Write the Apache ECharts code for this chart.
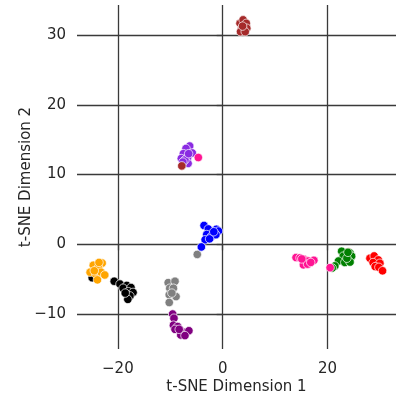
<!DOCTYPE html>
<html>
<head>
<meta charset="utf-8">
<script src="https://cdn.jsdelivr.net/npm/echarts@6/dist/echarts.min.js"></script>
<style>html,body{margin:0;padding:0;background:#fff}#c{width:396px;height:400px}</style>
</head>
<body>
<div id="c"></div>
<script>
// tick labels
const xTicks = [-20, 0, 20];
const yTicks = [-10, 0, 10, 20, 30];

// clusters: [x, y] pairs
const clusterOrange = [[-24.7,-3.0],[-23.0,-2.7],[-23.7,-3.3],[-25.3,-4.0],[-24.2,-4.3],[-23.2,-4.0],[-22.5,-4.4],[-23.9,-5.1],[-24.5,-3.8],[-23.6,-2.6]];
const clusterBlack = [[-24.9,-4.8],[-20.7,-5.3],[-19.6,-5.7],[-18.3,-5.9],[-19.0,-6.3],[-17.5,-6.2],[-18.0,-6.8],[-17.1,-6.9],[-17.7,-7.4],[-18.1,-7.9],[-18.6,-7.0]];
const clusterGrey = [[-10.4,-5.5],[-9.1,-5.3],[-10.1,-6.3],[-9.4,-6.3],[-10.2,-7.25],[-8.9,-7.5],[-10.2,-8.35],[-9.7,-7.0],[-4.85,-1.45]];
const clusterDarkPurple = [[-9.55,-10.0],[-9.3,-10.6],[-9.4,-11.6],[-8.6,-11.8],[-9.1,-12.2],[-7.8,-12.5],[-7.0,-12.6],[-6.45,-12.4],[-8.0,-13.0],[-7.2,-13.1],[-8.3,-12.2]];
const clusterViolet = [[-6.3,14.1],[-7.0,13.75],[-5.8,13.1],[-7.5,13.0],[-7.9,12.3],[-6.7,12.4],[-6.6,11.6],[-7.2,12.1],[-6.5,13.0],[-7.6,11.8]];
const clusterBlue = [[-3.56,2.7],[-2.74,2.2],[-1.2,2.15],[-0.8,1.9],[-3.05,1.4],[-2.2,1.1],[-1.3,1.38],[-3.35,0.65],[-2.5,0.78],[-4.07,-0.38],[-1.7,1.8]];
const clusterBrown = [[3.3,31.7],[3.9,32.2],[4.5,31.7],[3.6,31.0],[4.6,31.0],[3.4,30.5],[4.3,30.5],[3.8,31.3],[-7.8,11.25]];
const clusterPink = [[14.0,-1.9],[14.75,-1.95],[15.5,-2.15],[16.3,-2.4],[17.4,-2.3],[15.4,-2.95],[16.2,-2.85],[16.8,-2.6],[15.1,-2.1],[-4.65,12.45],[20.5,-3.35]];
const clusterGreen = [[22.7,-1.0],[24.3,-1.25],[23.0,-1.7],[24.6,-1.7],[22.1,-2.4],[23.3,-2.6],[24.3,-2.55],[21.4,-3.1],[20.9,-3.4],[23.7,-2.0],[23.9,-1.15]];
const clusterRed = [[24.0,-1.1],[28.1,-2.0],[28.9,-1.67],[29.7,-2.24],[28.7,-2.62],[30.0,-2.72],[29.1,-3.2],[29.8,-3.3],[30.5,-3.8]];

// drawing order (first drawn is underneath)
const clusters = [
  {name:'black', color:'#000000', data:clusterBlack},
  {name:'red', color:'#ff0000', data:clusterRed},
  {name:'orange', color:'#ffa500', data:clusterOrange},
  {name:'grey', color:'#808080', data:clusterGrey},
  {name:'purple', color:'#800080', data:clusterDarkPurple},
  {name:'blueviolet', color:'#8a2be2', data:clusterViolet},
  {name:'blue', color:'#0000ff', data:clusterBlue},
  {name:'green', color:'#008000', data:clusterGreen},
  {name:'pink', color:'#ff1493', data:clusterPink},
  {name:'brown', color:'#a52a2a', data:clusterBrown}
];

const font = 'DejaVu Sans';
const lineColor = '#3a3a3a';
const textColor = '#262626';
const chart = echarts.init(document.getElementById('c'), null, {renderer:'canvas'});
chart.setOption({
  animation:false,
  backgroundColor:'#fff',
  grid:{left:77, right:0, top:5, bottom:50, containLabel:false},
  xAxis:{
    type:'value', min:-27.8, max:33.07,
    name:'t-SNE Dimension 1', nameLocation:'middle', nameGap:31, nameMoveOverlap:false,
    nameTextStyle:{fontFamily:font, fontSize:15, color:textColor},
    axisLine:{show:false},
    axisTick:{show:true, length:6, customValues:xTicks, lineStyle:{color:lineColor, width:1.3}},
    axisLabel:{customValues:xTicks, fontFamily:font, fontSize:15, color:textColor, margin:13,
      formatter:v=> v<0 ? '\u2212'+Math.abs(v) : String(v)},
    splitLine:{show:true, lineStyle:{color:lineColor, width:1.3}}
  },
  yAxis:{
    type:'value', min:-15.02, max:34.33,
    name:'t-SNE Dimension 2', nameLocation:'middle', nameGap:43, nameMoveOverlap:false,
    nameTextStyle:{fontFamily:font, fontSize:15, color:textColor},
    axisLine:{show:false},
    axisTick:{show:true, length:6, customValues:yTicks, lineStyle:{color:lineColor, width:1.3}},
    axisLabel:{customValues:yTicks, fontFamily:font, fontSize:15, color:textColor, margin:11,
      formatter:v=> v<0 ? '\u2212'+Math.abs(v) : String(v)},
    splitLine:{show:true, lineStyle:{color:lineColor, width:1.3}}
  },
  series: clusters.map(c=>({
    type:'scatter', name:c.name, data:c.data, symbolSize:8.5,
    itemStyle:{color:c.color, borderColor:'#fff', borderWidth:0.7, opacity:1}
  }))
});
</script>
</body>
</html>
